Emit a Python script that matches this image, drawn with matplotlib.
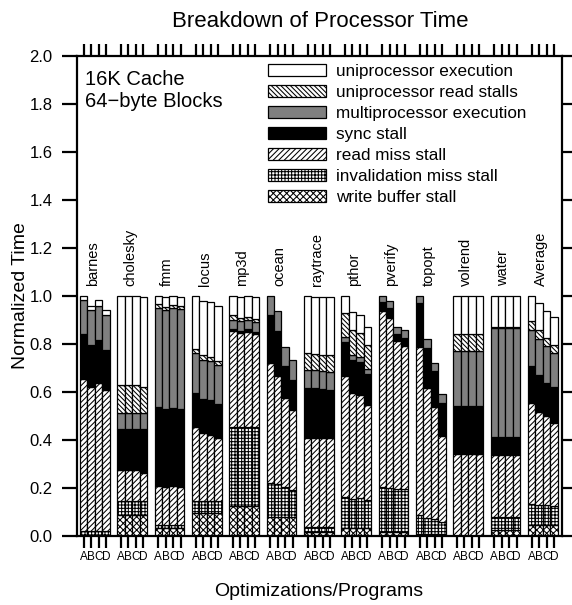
import numpy as np
import matplotlib
matplotlib.use("Agg")
import matplotlib.pyplot as plt
from matplotlib.patches import Patch

plt.rcParams['font.family'] = ['Liberation Sans', 'DejaVu Sans']
plt.rcParams['hatch.linewidth'] = 0.75
plt.rcParams['hatch.color'] = 'black'

programs = ["barnes", "cholesky", "fmm", "locus", "mp3d", "ocean", "raytrace",
            "pthor", "pverify", "topopt", "volrend", "water", "Average"]
configs = ["A", "B", "C", "D"]

# cumulative level (top of each component), per program x config
write_buffer_top = [
    [0.005]*4, [0.087]*4, [0.035]*4, [0.095]*4, [0.126]*4, [0.08]*4, [0.017]*4,
    [0.035]*4, [0.015]*4, [0.01]*4, [0.0]*4, [0.025]*4, [0.046]*4]
invalidation_top = [
    [0.022]*4, [0.144]*4, [0.045]*4, [0.144]*4, [0.455]*4,
    [0.221, 0.217, 0.203, 0.193], [0.038]*4, [0.164, 0.154, 0.160, 0.150],
    [0.206, 0.200, 0.196, 0.196], [0.087, 0.073, 0.070, 0.059], [0.0]*4,
    [0.081]*4, [0.133, 0.130, 0.130, 0.126]]
read_miss_top = [
    [0.653, 0.620, 0.636, 0.606], [0.273, 0.273, 0.273, 0.262],
    [0.210, 0.206, 0.208, 0.205], [0.455, 0.429, 0.422, 0.406],
    [0.853, 0.846, 0.851, 0.842], [0.720, 0.664, 0.573, 0.524],
    [0.406, 0.406, 0.406, 0.406], [0.664, 0.594, 0.587, 0.545],
    [0.937, 0.909, 0.811, 0.790], [0.787, 0.618, 0.538, 0.415],
    [0.340]*4, [0.336]*4, [0.552, 0.517, 0.499, 0.471]]
sync_top = [
    [0.839, 0.797, 0.815, 0.776], [0.445]*4, [0.538, 0.529, 0.533, 0.530],
    [0.594, 0.571, 0.564, 0.550], [0.862, 0.855, 0.860, 0.850],
    [0.920, 0.853, 0.706, 0.650], [0.615, 0.615, 0.611, 0.608],
    [0.807, 0.734, 0.723, 0.674], [0.976, 0.951, 0.842, 0.825],
    [0.968, 0.783, 0.685, 0.555], [0.543]*4, [0.410]*4,
    [0.709, 0.671, 0.636, 0.620]]
multiproc_top = [
    [0.983, 0.940, 0.958, 0.920], [0.510]*4, [0.947, 0.941, 0.950, 0.944],
    [0.762, 0.734, 0.727, 0.711], [0.899, 0.895, 0.899, 0.890],
    [1.0, 0.937, 0.787, 0.734], [0.690, 0.690, 0.685, 0.682],
    [0.829, 0.755, 0.745, 0.695], [1.0, 0.979, 0.870, 0.856],
    [1.0, 0.821, 0.720, 0.590], [0.769]*4, [0.864]*4,
    [0.856, 0.821, 0.790, 0.762]]
uni_read_top = [
    [0.983, 0.940, 0.958, 0.920], [0.629, 0.629, 0.629, 0.622],
    [0.965, 0.955, 0.962, 0.956], [0.779, 0.752, 0.745, 0.727],
    [0.919, 0.909, 0.913, 0.905], [1.0, 0.937, 0.787, 0.734],
    [0.762, 0.759, 0.752, 0.752], [0.930, 0.857, 0.846, 0.797],
    [1.0, 0.979, 0.870, 0.856], [1.0, 0.821, 0.720, 0.590],
    [0.839]*4, [0.871]*4, [0.895, 0.856, 0.825, 0.797]]
total_top = [
    [1.0, 0.958, 0.982, 0.941], [1.0, 1.0, 1.0, 0.995], [1.0, 0.993, 1.0, 0.993],
    [1.0, 0.979, 0.972, 0.958], [1.0, 0.993, 1.0, 0.993],
    [1.0, 0.937, 0.787, 0.734], [1.0, 0.996, 0.993, 0.993],
    [1.0, 0.934, 0.920, 0.871], [1.0, 0.979, 0.870, 0.856],
    [1.0, 0.821, 0.720, 0.590], [1.0, 1.0, 1.0, 0.997], [1.0]*4,
    [1.0, 0.968, 0.937, 0.912]]

layer_names = ["write buffer stall", "invalidation miss stall", "read miss stall",
               "sync stall", "multiprocessor execution", "uniprocessor read stalls",
               "uniprocessor execution"]
layer_tops = [write_buffer_top, invalidation_top, read_miss_top, sync_top,
              multiproc_top, uni_read_top, total_top]
layer_face = ["white", "white", "white", "black", "#808080", "white", "white"]
layer_hatch = ["xxxxx", "+++++", "//////", None, None, "\\\\\\\\\\\\\\", None]

yticks = [0.0, 0.2, 0.4, 0.6, 0.8, 1.0, 1.2, 1.4, 1.6, 1.8, 2.0]

fig = plt.figure(figsize=(5.72, 6.05), dpi=100)
ax = fig.add_axes([76.5/572, 1-536/605, 485/572, 480.5/605])

ng = len(programs)
xs = np.array([g*5 + j for g in range(ng) for j in range(4)], dtype=float)
prev = np.zeros(len(xs))
for name, tops, fc, h in zip(layer_names, layer_tops, layer_face, layer_hatch):
    t = np.array(tops, dtype=float).ravel()
    hgt = t - prev
    m = hgt > 1e-9
    ax.bar(xs[m], hgt[m], bottom=prev[m], width=1.0, color=fc, hatch=h,
           edgecolor="black", linewidth=0.9)
    prev = t

for g, p in enumerate(programs):
    ax.text(g*5 + 1.2, 1.04, p, rotation=90, ha="center", va="bottom", fontsize=10.5)

ax.set_xlim(-0.95, 64.0)
ax.set_ylim(0, 2.0)
ax.set_xticks(xs)
ax.set_xticklabels(configs*ng, fontsize=8.5)
ax.set_yticks(yticks)
ax.set_yticklabels([f"{v:.1f}" for v in yticks], fontsize=12)
ax.tick_params(axis="x", direction="out", length=8.6, width=1.6, top=True, pad=2.5)
ax.tick_params(axis="y", direction="out", length=10.8, width=1.6, right=True, pad=6.5)
for s in ax.spines.values():
    s.set_linewidth(1.6)

ax.set_ylabel("Normalized Time", fontsize=14, labelpad=0)
ax.set_xlabel("Optimizations/Programs", fontsize=14, labelpad=14)
fig.text(0.56, 0.965, "Breakdown of Processor Time", ha="center", va="center", fontsize=16)

ax.text(0.018, 0.97, "16K Cache\n64\u2212byte Blocks", transform=ax.transAxes,
        ha="left", va="top", fontsize=14.5, linespacing=1.2)

handles = [Patch(facecolor=fc, hatch=h, edgecolor="black", linewidth=0.9)
           for fc, h in zip(layer_face, layer_hatch)][::-1]
ax.legend(handles, layer_names[::-1], loc="upper left", bbox_to_anchor=(0.395, 0.983),
          frameon=False, fontsize=12.3, handlelength=3.4, handleheight=0.75,
          labelspacing=0.34, handletextpad=0.6, borderpad=0, borderaxespad=0)

fig.savefig("out.png", dpi=100)
